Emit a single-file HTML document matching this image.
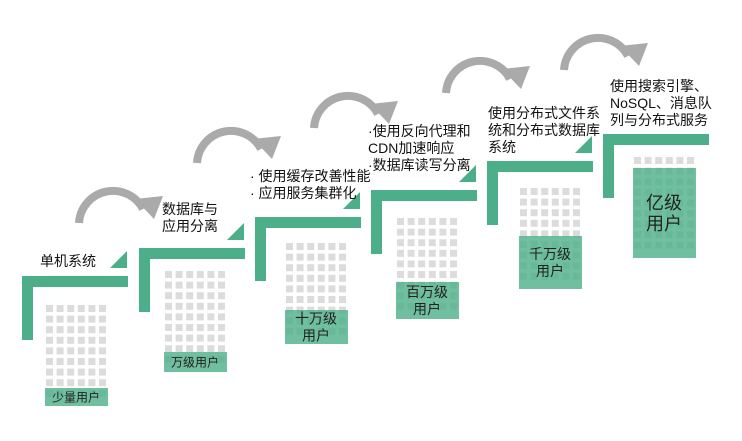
<!DOCTYPE html>
<html><head><meta charset="utf-8"><style>
html,body{margin:0;padding:0;background:#fff;}
svg{display:block;font-family:"Liberation Sans","Noto Sans CJK SC",sans-serif;}
</style></head><body>
<svg id="c" width="742" height="441" viewBox="0 0 742 441"></svg>
<script>
const stageLabels=["少量用户","万级用户","十万级用户","百万级用户","千万级用户","亿级用户"];
const boxLines=[["少量用户"],["万级用户"],["十万级","用户"],["百万级","用户"],["千万级","用户"],["亿级","用户"]];
const boxHeights=[18,20,34,37,53,90];
const descLines=[["单机系统"],["数据库与","应用分离"],["· 使用缓存改善性能","· 应用服务集群化"],["·使用反向代理和"," CDN加速响应","·数据库读写分离"],["使用分布式文件系","统和分布式数据库","系统"],["使用搜索引擎、","NoSQL、消息队","列与分布式服务"]];
const barX=[22,139,255,371,487,603];
const barY=[276,248,217,190,161,134];
const gridX=[46,165,286,397,520,634];
const gridTop=[305,271,243,218,188,157];
const descX=[40,162,250,368,488,610];
const descY=[266,214,181,136,118,91];
const arrowX=[75,193,310,442,560];
const arrowY=[223,163,128,93,70];
const NS="http://www.w3.org/2000/svg";
const svg=document.getElementById('c');
function el(t,a,p){const e=document.createElementNS(NS,t);for(const k in a)e.setAttribute(k,a[k]);(p||svg).appendChild(e);return e;}
const G="#4caf89";
for(let i=0;i<arrowX.length;i++){
  const g=el('g',{transform:`translate(${arrowX[i]},${arrowY[i]})`});
  
  
  el('path',{d:'M4,0 A34,34 0 0 1 68,-14',fill:'none',stroke:'#aaa','stroke-width':8},g);
  el('polygon',{points:'60,-24 88,-27 79,-4',fill:'#aaa'},g);
}
for(let i=0;i<6;i++){
  const g=el('g',{});
  
  
  const bx=barX[i],by=barY[i];
  el('rect',{x:bx,y:by,width:106,height:11,fill:G},g);
  el('rect',{x:bx,y:by,width:11,height:64,fill:G},g);
  if(i<5){
    const tri=el('polygon',{points:`${bx+105},${by-25} ${bx+105},${by-8} ${bx+88},${by-8}`,fill:G},g);
    
    
  }
  const gx=gridX[i],gt=gridTop[i];
  for(let r=0;r<10;r++)for(let c=0;c<6;c++){
    const y=gt+r*10.6;
    if(y+7>gt+101)continue;
    el('rect',{x:gx+c*10.6,y:y,width:7,height:7,fill:'#dcdcdc'},g);
  }
  const bh=boxHeights[i],byb=gt+101-bh;
  const box=el('rect',{x:gx-1,y:byb,width:63,height:bh,fill:'rgba(76,175,137,0.8)'},g);
  
  
  const L=boxLines[i];
  const fs=i==5?18:(L.length>1?14:12);
  const lh=fs+3;
  const cy=byb+bh/2-(L.length-1)*lh/2;
  L.forEach((s,j)=>{const t=el('text',{x:gx+30,y:cy+j*lh+fs*0.36,'text-anchor':'middle','font-size':fs,fill:'#222'},g);t.textContent=s;
    
    });
  descLines[i].forEach((s,j)=>{const t=el('text',{x:descX[i],y:descY[i]+j*17,'font-size':14,fill:'#111'},g);t.textContent=s;
    
    });
}
</script>
</body></html>
